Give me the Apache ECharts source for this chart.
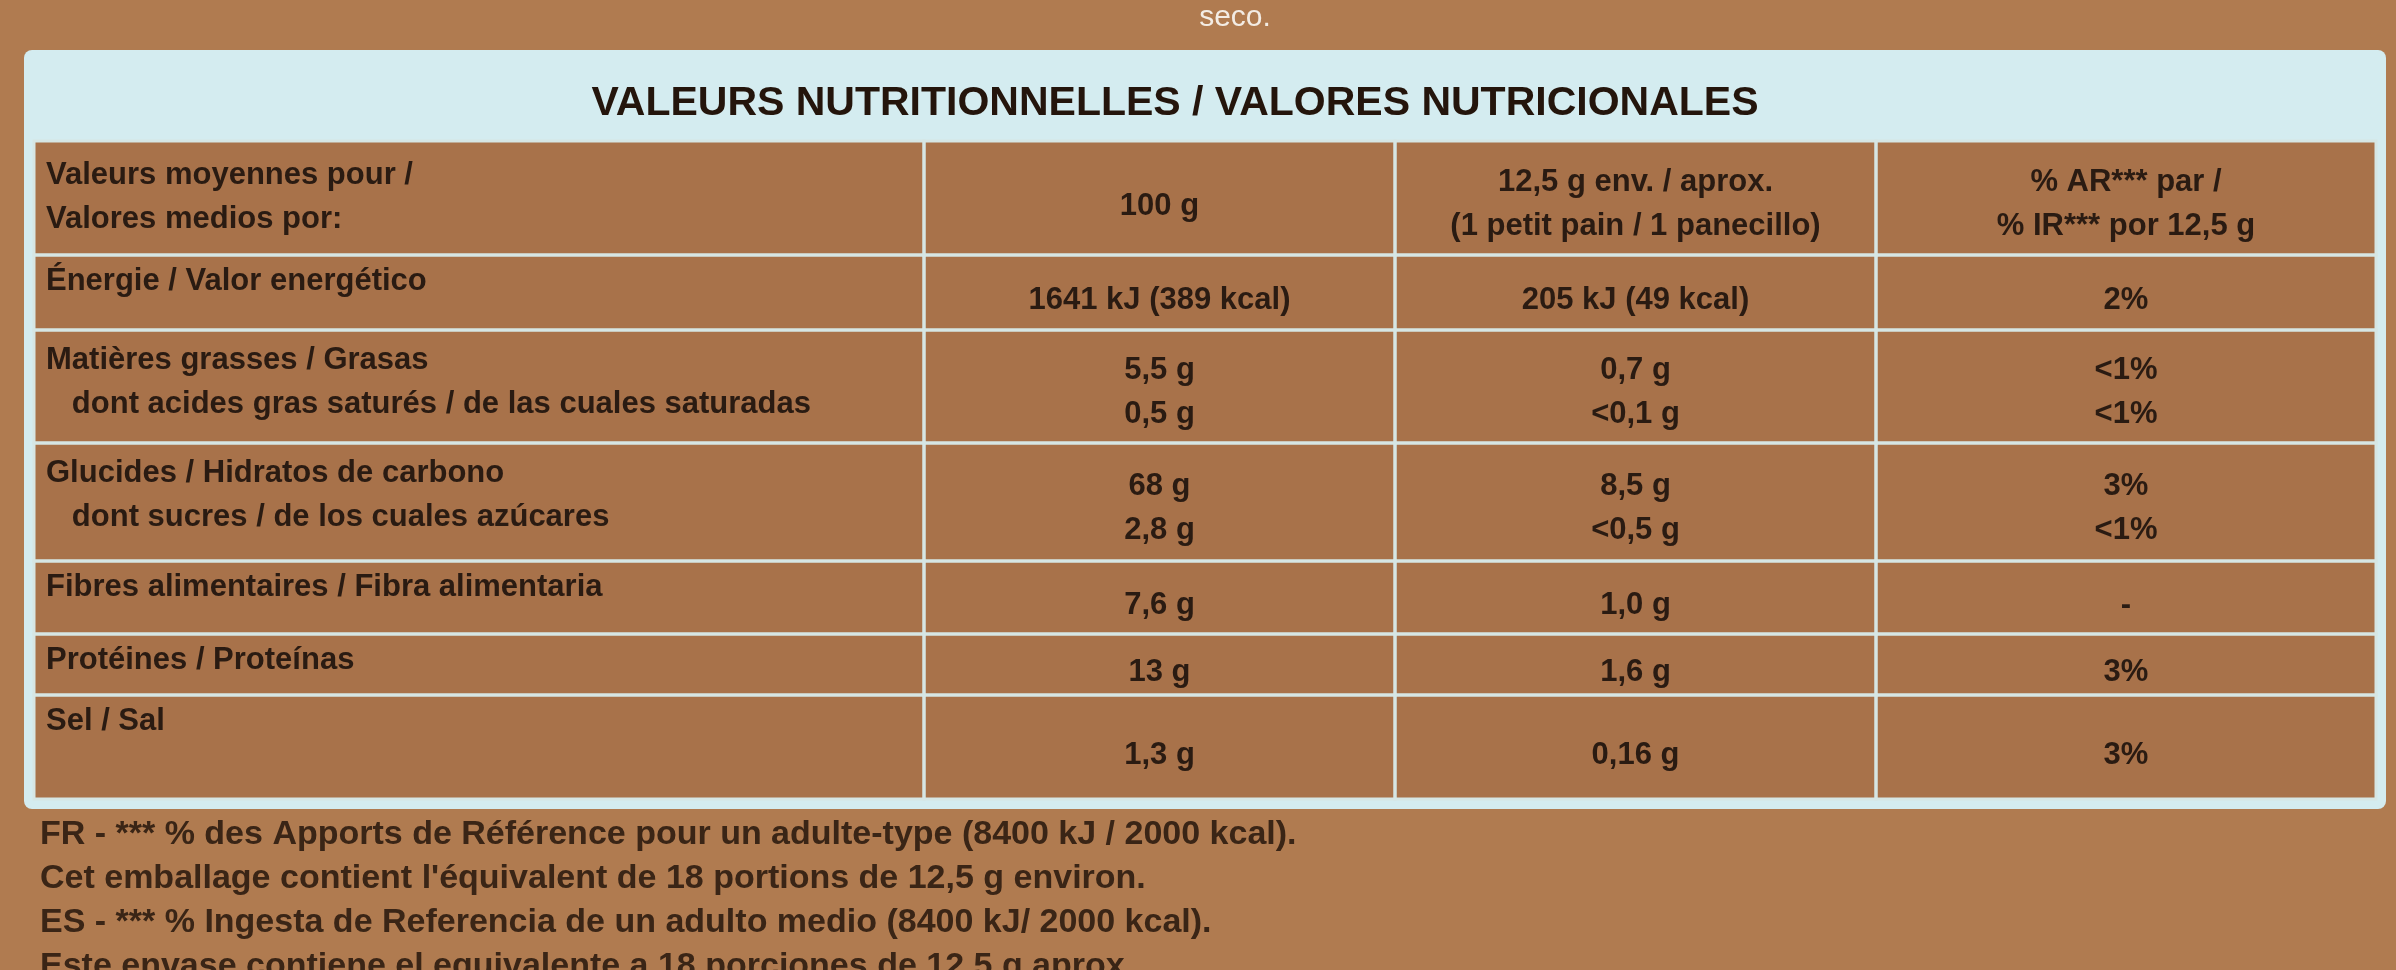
<!DOCTYPE html>
<html><head><meta charset="utf-8">
<script src="https://cdn.jsdelivr.net/npm/echarts@6/dist/echarts.min.js"></script>
<style>html,body{margin:0;padding:0;background:#b07b50}#c{width:2396px;height:970px}</style>
</head><body><div id="c"></div>
<script>
// ---- data ----
const title = 'VALEURS NUTRITIONNELLES / VALORES NUTRICIONALES';
const topText = 'seco.';
const headers = ['Valeurs moyennes pour /\nValores medios por:', '100 g', '12,5 g env. / aprox.\n(1 petit pain / 1 panecillo)', '% AR*** par /\n% IR*** por 12,5 g'];
const nutrients = ['Énergie / Valor energético',
  'Matières grasses / Grasas\n   dont acides gras saturés / de las cuales saturadas',
  'Glucides / Hidratos de carbono\n   dont sucres / de los cuales azúcares',
  'Fibres alimentaires / Fibra alimentaria',
  'Protéines / Proteínas',
  'Sel / Sal'];
const per100g = ['1641 kJ (389 kcal)', '5,5 g\n0,5 g', '68 g\n2,8 g', '7,6 g', '13 g', '1,3 g'];
const perPortion = ['205 kJ (49 kcal)', '0,7 g\n<0,1 g', '8,5 g\n<0,5 g', '1,0 g', '1,6 g', '0,16 g'];
const pctRI = ['2%', '<1%\n<1%', '3%\n<1%', '-', '3%', '3%'];
const footer = ['FR - *** % des Apports de Référence pour un adulte-type (8400 kJ / 2000 kcal).',
  'Cet emballage contient l\'équivalent de 18 portions de 12,5 g environ.',
  'ES - *** % Ingesta de Referencia de un adulto medio (8400 kJ/ 2000 kcal).',
  'Este envase contiene el equivalente a 18 porciones de 12,5 g aprox.'];

// ---- layout ----
const colEdges = [34, 924, 1395, 1876, 2376];
const rowEdges = [141, 255, 330, 443, 561, 634, 695, 799];
const frameTop = 50;
const FONT = '"Liberation Sans Narrow", "Liberation Sans", Arial, sans-serif';
const TXT = '#2a1b12';

const rows = [headers].concat(nutrients.map((n, i) => [n, per100g[i], perPortion[i], pctRI[i]]));
const cells = [];
rows.forEach((r, ri) => r.forEach((t, ci) => cells.push({value: [ci, ri], text: t})));

const chart = echarts.init(document.getElementById('c'));
chart.setOption({
  backgroundColor: '#b07b50',
  animation: false,
  grid: {left: 0, right: 0, top: 0, bottom: 0},
  xAxis: {type: 'value', min: 0, max: 2396, show: false},
  yAxis: {type: 'value', min: 0, max: 970, inverse: true, show: false},
  series: [
    {
      type: 'custom', silent: true,
      data: [[0]],
      renderItem: (params, api) => {
        const a = api.coord([colEdges[0] - 10, frameTop]);
        const b = api.coord([colEdges[4] + 10, rowEdges[rowEdges.length - 1] + 10]);
        const m = api.coord([(colEdges[0] + colEdges[4]) / 2 - 30, (frameTop + rowEdges[0]) / 2 + 8]);
        const s = api.coord([1235, 18]);
        return {type: 'group', children: [
          {type: 'rect', shape: {x: a[0], y: a[1], width: b[0] - a[0], height: b[1] - a[1], r: 8}, style: {fill: '#d4ecf0'}},
          {type: 'rect', shape: {x: colEdges[0], y: rowEdges[0], width: colEdges[4] - colEdges[0], height: b[1] - 10 - rowEdges[0]}, style: {fill: '#a8724a'}},
          {type: 'text', x: m[0], y: m[1], style: {text: title, font: 'bold 41px ' + FONT, fill: '#24150c', align: 'center', verticalAlign: 'middle'}},
          {type: 'text', x: s[0], y: s[1], style: {text: topText, font: '30px ' + FONT, fill: '#f3ece4', align: 'center', verticalAlign: 'middle'}}
        ]};
      }
    },
    {
      type: 'custom', silent: true,
      data: cells,
      renderItem: (params, api) => {
        const c = api.value(0), r = api.value(1);
        const p0 = api.coord([colEdges[c], rowEdges[r]]);
        const p1 = api.coord([colEdges[c + 1], rowEdges[r + 1]]);
        const txt = cells[params.dataIndex].text;
        const w = p1[0] - p0[0], h = p1[1] - p0[1];
        const multi = txt.indexOf('\n') >= 0;
        let tx, ty, align, va;
        if (c === 0) { tx = p0[0] + 12; ty = p0[1] + 8; align = 'left'; va = 'top'; }
        else { tx = p0[0] + w / 2; ty = p0[1] + h / 2 + (multi ? 6 : 8); align = 'center'; va = 'middle'; }
        if (r === 0 && c === 0) ty = p0[1] + 12;
        return {type: 'group', children: [
          {type: 'rect', shape: {x: p0[0], y: p0[1], width: w, height: h}, style: {fill: 'none', stroke: '#d6e6e4', lineWidth: 3}},
          {type: 'text', x: tx, y: ty, style: {text: txt, font: 'bold 31px ' + FONT, lineHeight: multi ? 44 : 36, fill: TXT, align: align, verticalAlign: va}}
        ]};
      }
    },
    {
      type: 'custom', silent: true,
      data: footer.map((t, i) => [i]),
      renderItem: (params, api) => {
        const i = params.dataIndex;
        const p = api.coord([40, 835 + i * 44]);
        return {type: 'text', x: p[0], y: p[1], style: {text: footer[i], font: 'bold 34px ' + FONT, fill: '#3a2516', verticalAlign: 'middle'}};
      }
    }
  ]
});
</script></body></html>
